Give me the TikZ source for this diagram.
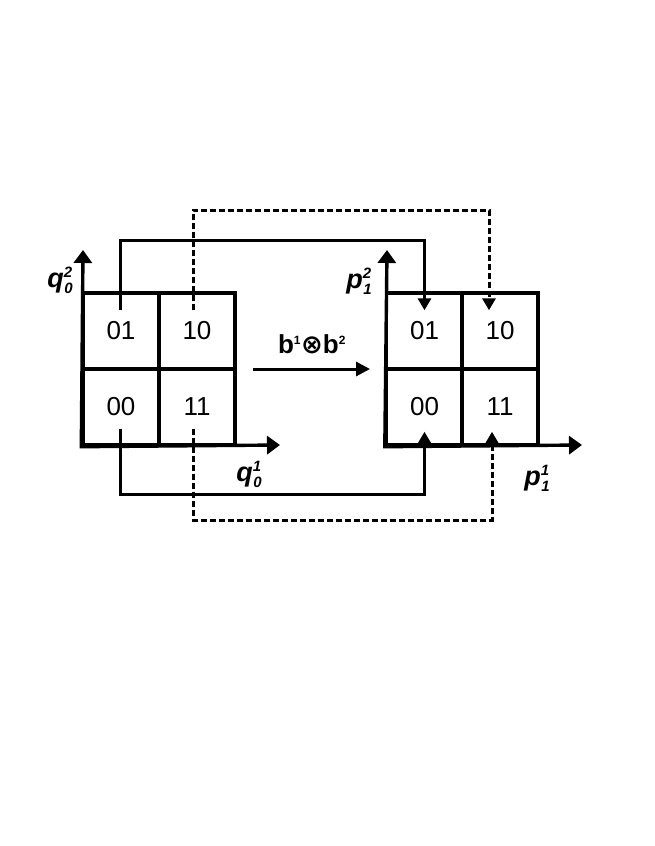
\documentclass[tikz,border=0pt]{standalone}
\usepackage{fontspec}
\setmainfont{Liberation Sans}
\newfontfamily\symfont{DejaVu Sans}
\usetikzlibrary{arrows.meta,calc}
\newcommand\axlab[3]{{\fontsize{27}{27}\selectfont\bfseries\itshape #1}\makebox[0pt][l]{\raisebox{10pt}{\fontsize{15}{15}\selectfont\bfseries\itshape #3}}\hspace{0.5pt}\raisebox{-6pt}{\fontsize{15}{15}\selectfont\bfseries\itshape #2}}
\begin{document}
\begin{tikzpicture}[x=1pt,y=-1pt,
  cell/.style={draw,line width=3.4pt,minimum size=76pt,inner sep=0pt,font=\fontsize{26}{26}\selectfont},
  axis/.style={line width=3.4pt,{Triangle[length=13pt,width=18pt]}-{Triangle[length=13pt,width=18pt]}},
  link/.style={line width=3pt,-{Triangle[length=12pt,width=13pt]}},
  dlink/.style={link,dash pattern=on 6pt off 3pt},
  lab/.style={inner sep=0pt}]
\useasboundingbox (0,0) rectangle (654,846);
% left grid
\node[cell] (L01) at (121,331) {01};
\node[cell] (L10) at (197,331) {10};
\node[cell] (L00) at (121,407) {00};
\node[cell] (L11) at (197,407) {11};
% right grid
\node[cell] (R01) at (424.5,331) {01};
\node[cell] (R10) at (500,331) {10};
\node[cell] (R00) at (424.5,407) {00};
\node[cell] (R11) at (500,407) {11};
% axes
\coordinate (Ly) at (83,250);
\coordinate (Lx) at (280,445);
\coordinate (Ry) at (387,250);
\coordinate (Rx) at (582,445);
\draw[axis] (Ly) -- (L00.south west) -- (Lx);
\draw[axis] (Ry) -- (R00.south west) -- (Rx);
% axis labels
\node[lab] (q2) at (60,280) {\axlab{q}{0}{2}};
\node[lab] (q1) at (249,474) {\axlab{q}{0}{1}};
\node[lab] (p2) at (359,281) {\axlab{p}{1}{2}};
\node[lab] (p1) at (537,478) {\axlab{p}{1}{1}};
% middle arrow
\coordinate (ma) at (253,369);
\coordinate (mb) at (370,369);
\draw[line width=3pt,-{Triangle[length=14pt,width=14pt]}] (ma) -- (mb);
\node[lab] (op) at (312,344) {\fontsize{26}{26}\selectfont\bfseries b\textsuperscript{\fontsize{12}{12}\selectfont 1}{\symfont ⊗}b\textsuperscript{\fontsize{12}{12}\selectfont 2}};
% connectors
\coordinate (t1) at (270,240);
\coordinate (t2) at (340,210);
\coordinate (b1) at (270,494);
\coordinate (b2) at (340,520);
\draw[link] ($(L01.north)+(-1,19)$) |- (t1) -| ($(R01.north)+(0,19)$);
\draw[dlink] ($(L10.north)+(-4,19)$) |- (t2) -| ($(R10.north)+(-11,19)$);
\draw[link] ($(L00.south)+(-1,-18)$) |- (b1) -| ($(R00.south)+(0,-15)$);
\draw[dlink] ($(L11.south)+(-4,-18)$) |- (b2) -| ($(R11.south)+(-8,-15)$);
\end{tikzpicture}
\end{document}
